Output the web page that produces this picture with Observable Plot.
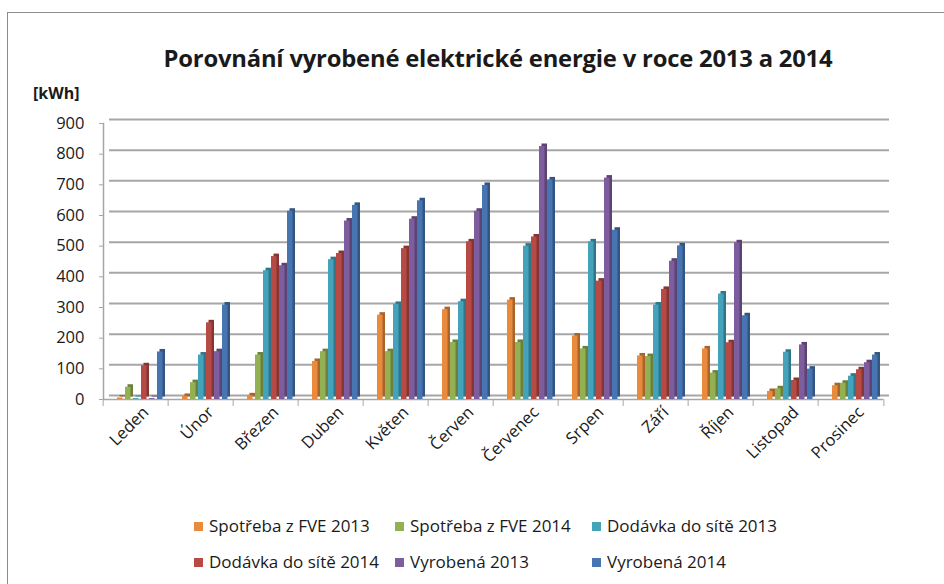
<!DOCTYPE html>
<html>
<head>
<meta charset="utf-8">
<script src="https://cdn.jsdelivr.net/npm/d3@7"></script>
<script src="https://cdn.jsdelivr.net/npm/@observablehq/plot@0.6"></script>
<style>
  body { margin: 0; background: #fff; font-family: "Open Sans", sans-serif; color: #1a1a1a; }
  #border { position: absolute; left: 7px; top: 12px; width: 1000px; height: 700px; border: 1.5px solid #8c8c8c; }
  #title { position: absolute; left: 0; width: 996px; top: 42px; text-align: center; font: bold 23.8px "Open Sans"; line-height: 32px; letter-spacing: -0.2px; }
  #unit { position: absolute; left: 33px; top: 82px; font: bold 16px "Open Sans"; line-height: 22px; }
  #chart { position: absolute; left: 0; top: 100px; }
  .lg { position: absolute; font: 17px "Open Sans"; line-height: 22px; white-space: nowrap; }
  .sw { display: inline-block; width: 9px; height: 9px; margin-right: 6px; vertical-align: 1px; }
</style>
</head>
<body>
<div id="border"></div>
<div id="title">Porovnání vyrobené elektrické energie v roce 2013 a 2014</div>
<div id="unit">[kWh]</div>
<div id="chart"></div>
<div id="legend"></div>
<script>
const months = ["Leden","Únor","Březen","Duben","Květen","Červen","Červenec","Srpen","Září","Říjen","Listopad","Prosinec"];
const series = ["Spotřeba z FVE 2013","Spotřeba z FVE 2014","Dodávka do sítě 2013","Dodávka do sítě 2014","Vyrobená 2013","Vyrobená 2014"];
const spotreba2013 = [5,10,12,124,275,293,324,207,142,165,26,45];
const spotreba2014 = [40,55,145,156,156,186,186,165,140,86,35,53];
const dodavka2013  = [3,145,420,456,310,319,500,514,308,344,154,76];
const dodavka2014  = [110,250,466,476,492,514,530,386,359,185,62,97];
const vyrobena2013 = [3,156,436,582,588,614,825,722,451,511,178,120];
const vyrobena2014 = [155,308,614,633,648,698,716,552,501,273,99,145];
const yTicks = [0,100,200,300,400,500,600,700,800,900];
const colors = ["#E98A3D","#93B152","#44A2BB","#B84A46","#7D5D9E","#4675B1"];

const values = [spotreba2013, spotreba2014, dodavka2013, dodavka2014, vyrobena2013, vyrobena2014];
const data = [];
months.forEach((m, i) => series.forEach((s, j) => data.push({month: m, series: s, value: values[j][i]})));

const W = 944, H = 380, ML = 98, MR = 57, MT = 23, MB = 81;
const bw = (W - ML - MR) / months.length;
const grid = "#a6a6a6";

const backBars = series.map((s, j) => Plot.barY(data.filter(d => d.series === s), {
  fx: "month", x: "series", y: "value", fill: d3.color(colors[j]).darker(0.9).formatHex(),
  dx: 2.5, dy: -2.5, insetRight: 2.5
}));

const chart = Plot.plot({
  width: W, height: H,
  marginTop: MT, marginBottom: MB, marginLeft: ML, marginRight: MR,
  style: {fontFamily: "Open Sans", color: "#1a1a1a", background: "transparent"},
  fx: {domain: months, padding: 0, label: null},
  x: {domain: series, paddingInner: 0, paddingOuter: 0.65, align: 0.85, axis: null},
  y: {domain: [0, 900], label: null},
  color: {domain: series, range: colors},
  marks: [
    Plot.ruleY(yTicks, {y: d => d, stroke: grid, strokeWidth: 2, dx: 6, dy: -4}),
    Plot.ruleY([0], {stroke: grid, strokeWidth: 1.5}),
    ...backBars,
    Plot.barY(data, {fx: "month", x: "series", y: "value", fill: "series", insetRight: 2.5}),
    Plot.axisY({ticks: yTicks, tickSize: 4, tickPadding: 15, fontSize: 16.5, stroke: grid, label: null}),
    Plot.frame({anchor: "left", stroke: grid, strokeWidth: 1.5, facetAnchor: "left"}),
    Plot.axisFx({anchor: "bottom", tickSize: 7, tickFormat: () => "", stroke: grid, dx: -bw / 2, label: null}),
    Plot.axisFx({anchor: "bottom", ticks: [months[months.length - 1]], tickSize: 7, tickFormat: () => "", stroke: grid, dx: bw / 2, label: null}),
    Plot.axisFx({anchor: "bottom", tickSize: 0, tickRotate: -45, tickPadding: 10, fontSize: 16.5, dx: 10, label: null})
  ]
});
document.getElementById("chart").appendChild(chart);

const lg = document.getElementById("legend");
const colLeft = [194, 395, 592], rowTop = [515, 551];
series.forEach((s, j) => {
  const el = document.createElement("div");
  el.className = "lg";
  el.style.left = colLeft[j % 3] + "px";
  el.style.top = rowTop[Math.floor(j / 3)] + "px";
  el.innerHTML = `<span class="sw" style="background:${colors[j]}"></span>${s}`;
  lg.appendChild(el);
});
</script>
</body>
</html>
